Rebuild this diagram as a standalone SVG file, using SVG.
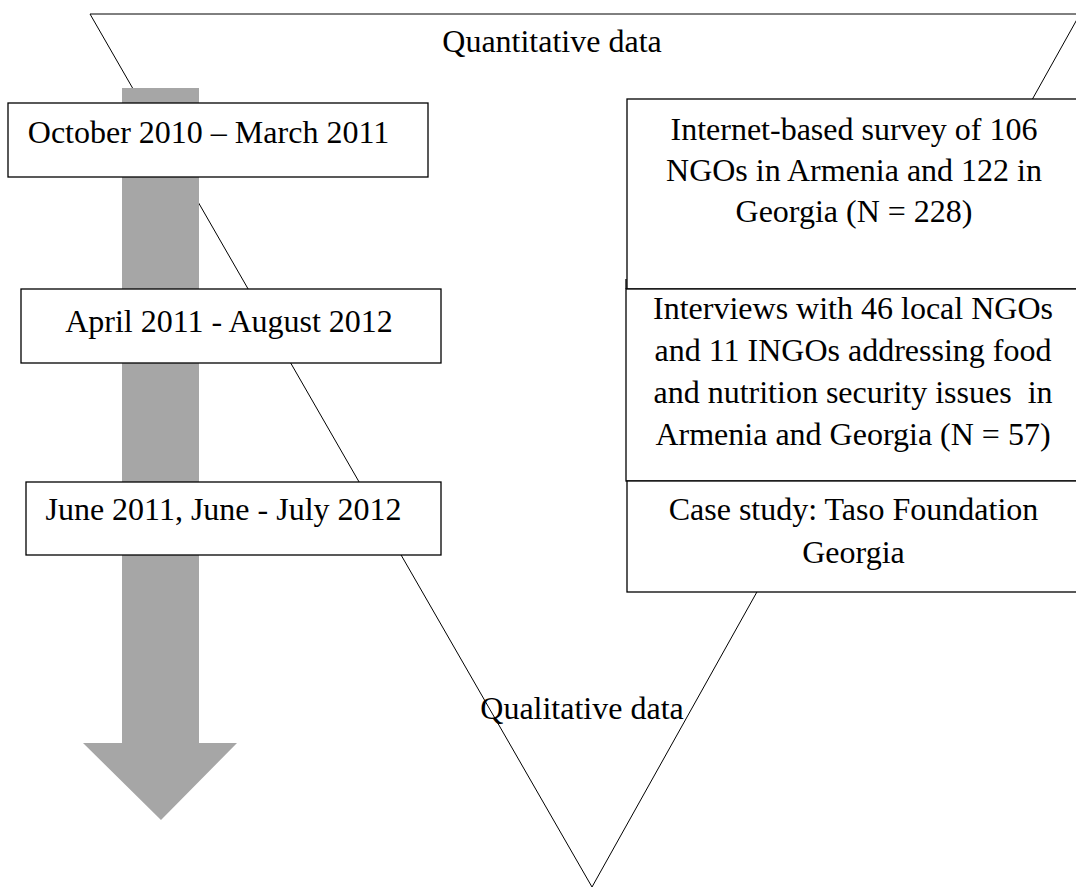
<svg xmlns="http://www.w3.org/2000/svg" width="1076" height="889" viewBox="0 0 1076 889">
<style>
  text { font-family: "Liberation Serif", "Times New Roman", serif; font-size: 32px; fill: #000; text-anchor: middle; }
  .box { fill: #fff; stroke: #000; stroke-width: 1.3; }
  .tri { fill: none; stroke: #000; stroke-width: 1; }
  .arrow { fill: #a6a6a6; stroke: none; }
</style>
<rect x="0" y="0" width="1076" height="889" fill="#fff"/>
<g id="funnel">
  <polygon class="tri" points="90,14 1080,14 592,887"/>
  <text x="552" y="52">Quantitative data</text>
</g>
<g id="time-arrow">
  <polygon class="arrow" points="122,88 199,88 199,743 237,743 161,820 83,743 122,743"/>
</g>
<g id="left-boxes">
  <g id="oct">
    <rect class="box" x="8" y="103" width="420" height="74"/>
    <text x="208.5" y="143">October 2010 – March 2011</text>
  </g>
  <g id="apr">
    <rect class="box" x="21" y="289" width="420" height="74"/>
    <text x="229" y="332">April 2011 - August 2012</text>
  </g>
  <g id="jun">
    <rect class="box" x="26" y="482" width="415" height="73"/>
    <text x="223.5" y="520">June 2011, June - July 2012</text>
  </g>
</g>
<g id="right-boxes">
  <g id="survey">
    <rect class="box" x="627" y="99" width="460" height="190"/>
    <text x="854" y="140">Internet-based survey of 106</text>
    <text x="854" y="181">NGOs in Armenia and 122 in</text>
    <text x="854" y="222">Georgia (N = 228)</text>
  </g>
  <g id="interviews">
    <rect class="box" x="626" y="289" width="460" height="192"/>
    <line x1="626" y1="279" x2="626" y2="289" stroke="#000" stroke-width="1.3"/>
    <text x="853" y="319">Interviews with 46 local NGOs</text>
    <text x="853" y="361">and 11 INGOs addressing food</text>
    <text x="853" y="403" xml:space="preserve">and nutrition security issues  in</text>
    <text x="853" y="445">Armenia and Georgia (N = 57)</text>
  </g>
  <g id="case">
    <rect class="box" x="627" y="481" width="460" height="111"/>
    <text x="853.5" y="520">Case study: Taso Foundation</text>
    <text x="853.5" y="563">Georgia</text>
  </g>
</g>
<g id="bottom-label">
  <text x="582" y="719">Qualitative data</text>
</g>
</svg>
